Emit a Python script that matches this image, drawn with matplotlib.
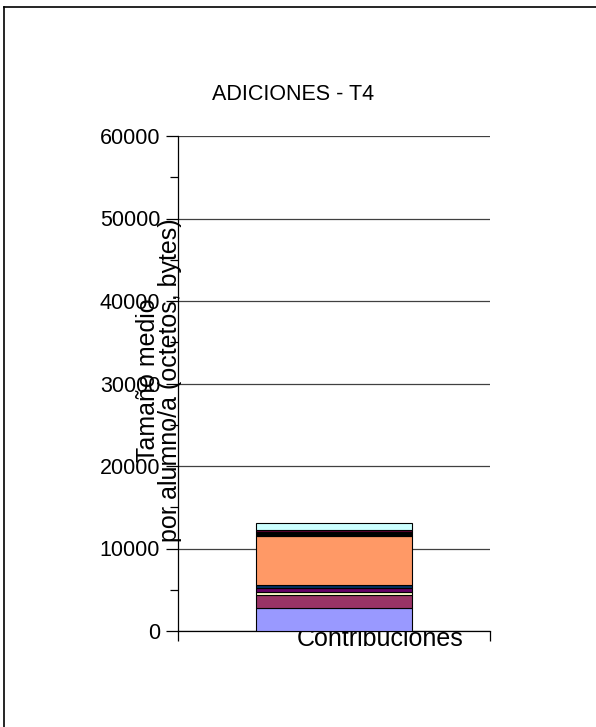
import numpy as np
import matplotlib.pyplot as plt
import matplotlib.transforms as mtransforms
from matplotlib.lines import Line2D

plt.rcParams['font.family'] = ['Liberation Sans', 'DejaVu Sans']

category = ['Contribuciones']
# stacked contributions, bottom to top (bytes)
seg_values = [2800, 1600, 380, 420, 320, 5980, 480, 250, 900]
seg_colors = ['#9999FF', '#993366', '#FFFFCC', '#660066', '#003366',
              '#FF9966', '#000000', '#660033', '#CCFFFF']
y_ticks = [0, 10000, 20000, 30000, 40000, 50000, 60000]

fig = plt.figure(figsize=(5.96, 7.27), dpi=100)
ax = fig.add_axes([178/596, 1-631/727, 312/596, 495/727])

bottom = 0
for v, c in zip(seg_values, seg_colors):
    ax.bar(0, v, width=0.5, bottom=bottom, color=c, edgecolor='black',
           linewidth=0.8, zorder=3)
    bottom += v

ax.set_xlim(-0.5, 0.5)
ax.set_ylim(0, 60000)
ax.set_yticks(y_ticks)
ax.set_yticks(np.arange(5000, 60000, 10000), minor=True)
ax.yaxis.grid(True, which='major', color='#404040', linewidth=0.9, zorder=0)
ax.tick_params(axis='y', which='major', length=8.6, width=0.9, pad=4.2,
               labelsize=15.5)
ax.tick_params(axis='y', which='minor', length=5.8, width=0.9)

ax.set_xticks([0])
ax.set_xticklabels(category, fontsize=18)
ax.set_xticks([-0.5, 0.5], minor=True)
ax.tick_params(axis='x', which='major', length=0, pad=-3)
ax.tick_params(axis='x', which='minor', length=7, width=0.9, direction='out')
offset = mtransforms.ScaledTranslation(0.46, 0, fig.dpi_scale_trans)
for lbl in ax.get_xticklabels():
    lbl.set_transform(lbl.get_transform() + offset)

for side in ['top', 'right']:
    ax.spines[side].set_visible(False)
ax.spines['left'].set_linewidth(0.9)
ax.spines['bottom'].set_linewidth(0.9)

fig.text(293/596, 1-95/727, 'ADICIONES - T4', ha='center', va='center',
         fontsize=15.5)
fig.text(159/596, 1-380/727, 'Tamaño medio\npor alumno/a (octetos, bytes)',
         rotation=90, ha='center', va='center', multialignment='center',
         fontsize=18, linespacing=0.85)

# chart area frame (top and left edges)
fig.add_artist(Line2D([4/596, 1], [1-7/727, 1-7/727], color='black',
                      linewidth=1.2, transform=fig.transFigure))
fig.add_artist(Line2D([4/596, 4/596], [0, 1-7/727], color='black',
                      linewidth=1.2, transform=fig.transFigure))

fig.savefig('out.png', dpi=100)
